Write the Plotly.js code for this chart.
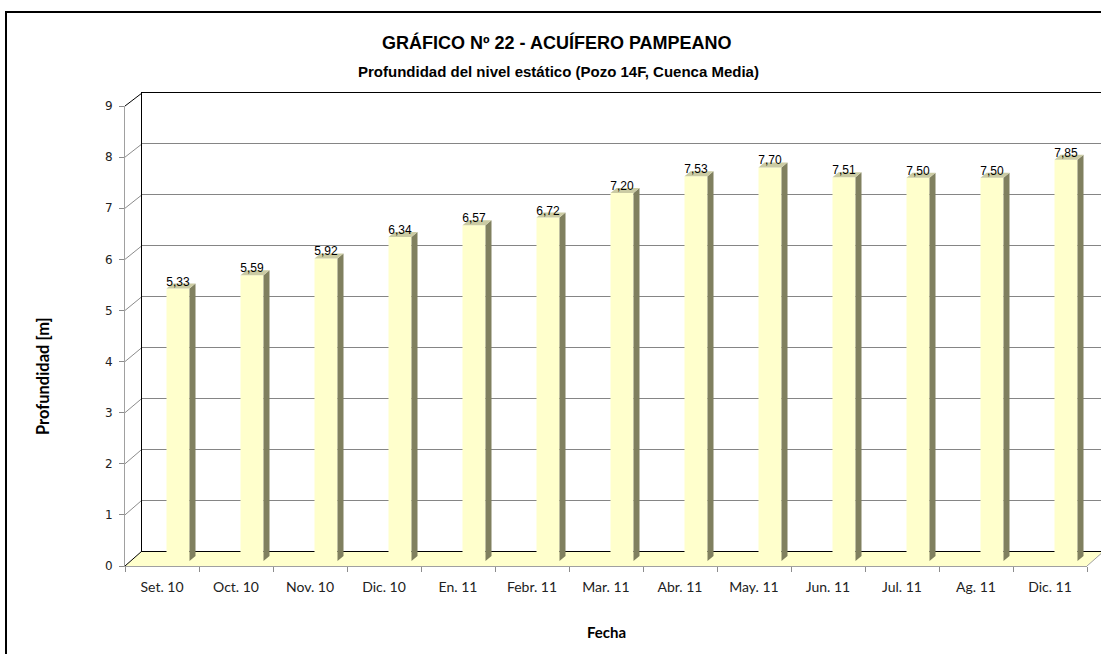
<!DOCTYPE html>
<html><head><meta charset="utf-8">
<script src="https://cdn.plot.ly/plotly-3.0.1.min.js"></script>
<style>html,body{margin:0;padding:0;background:#fff;} #chart{width:1101px;height:654px;}</style>
</head><body><div id="chart"></div>
<script>
// ---- data ----
const categories = ['Set. 10','Oct. 10','Nov. 10','Dic. 10','En. 11','Febr. 11','Mar. 11','Abr. 11','May. 11','Jun. 11','Jul. 11','Ag. 11','Dic. 11'];
const depths = [5.33, 5.59, 5.92, 6.34, 6.57, 6.72, 7.20, 7.53, 7.70, 7.51, 7.50, 7.50, 7.85];
const yTicks = [0,1,2,3,4,5,6,7,8,9];
const chartTitle = 'GRÁFICO Nº 22 - ACUÍFERO PAMPEANO';
const chartSubtitle = 'Profundidad del nivel estático (Pozo 14F, Cuenca Media)';
const xTitle = 'Fecha';
const yTitle = 'Profundidad [m]';

// ---- geometry (pixels) ----
const W = 1101, H = 654;
const frontL = 125, frontR = 1087, frontBottom = 566, frontTop = 106;
const depthX = 17;
const backL = frontL + depthX, backBottom = 551, backTop = 93;
const barShiftY = 5;
const yMax = 9;
const catW = (frontR - frontL) / categories.length;
const px = v => v / W, py = v => 1 - v / H;

const barW = 23 / catW;
const sideDx = 6 / catW;
const sideDy = 5 * yMax / (frontBottom - frontTop);
const idx = categories.map((_, i) => i);

// 3D faces built from the data
const sideX = [], sideY = [], topX = [], topY = [];
depths.forEach((v, i) => {
  const xl = i - barW / 2, xr = i + barW / 2;
  sideX.push(xr, xr + sideDx, xr + sideDx, xr, xr, null);
  sideY.push(0, sideDy, v + sideDy, v, 0, null);
  topX.push(xl, xr, xr + sideDx, xl + sideDx, xl, null);
  topY.push(v, v, v + sideDy, v + sideDy, v, null);
});
const labels = depths.map(v => v.toFixed(2).replace('.', ','));

const traces = [
  {type:'scatter', x:[0], y:[0], xaxis:'x', yaxis:'y', mode:'markers', marker:{opacity:0}, hoverinfo:'skip', showlegend:false},
  {type:'scatter', x:categories, y:depths, xaxis:'x2', yaxis:'y2', mode:'markers', marker:{opacity:0}, hoverinfo:'skip', showlegend:false},
  {type:'bar', x:idx, y:depths, xaxis:'x3', yaxis:'y3', width:barW, marker:{color:'#FFFFCC', line:{width:0}}, showlegend:false},
  {type:'scatter', x:sideX, y:sideY, xaxis:'x3', yaxis:'y3', mode:'lines', fill:'toself', fillcolor:'#80805F', line:{width:0, color:'#80805F'}, showlegend:false, hoverinfo:'skip'},
  {type:'scatter', x:topX, y:topY, xaxis:'x3', yaxis:'y3', mode:'lines', fill:'toself', fillcolor:'#CBCBA3', line:{width:0, color:'#CBCBA3'}, showlegend:false, hoverinfo:'skip'},
  {type:'scatter', x:idx, y:depths, xaxis:'x3', yaxis:'y3', mode:'text', text:labels, textposition:'top center',
   textfont:{family:'Liberation Sans, Arial, sans-serif', size:12, color:'#000'}, showlegend:false, hoverinfo:'skip'}
];

const shapes = [];
// floor
shapes.push({type:'path', xref:'paper', yref:'paper', layer:'below',
  path:`M ${px(frontL)},${py(frontBottom)} L ${px(frontR)},${py(frontBottom)} L ${px(frontR+depthX)},${py(backBottom)} L ${px(backL)},${py(backBottom)} Z`,
  fillcolor:'#FFFFCC', line:{width:0}});
// left wall diagonals
yTicks.forEach(v => {
  const yf = frontBottom - v * (frontBottom - frontTop) / yMax;
  const yb = backBottom - v * (backBottom - backTop) / yMax;
  const edge = (v === 0 || v === yMax);
  shapes.push({type:'line', xref:'paper', yref:'paper', layer:'below',
    x0:px(frontL), y0:py(yf), x1:px(backL), y1:py(yb),
    line:{color: edge ? '#000' : '#8c8c8c', width:1}});
});
// right floor edge
shapes.push({type:'line', xref:'paper', yref:'paper', layer:'below',
  x0:px(frontR), y0:py(frontBottom), x1:px(frontR+depthX), y1:py(backBottom), line:{color:'#a0a0a0', width:1}});
// outer frame
shapes.push({type:'rect', xref:'paper', yref:'paper', layer:'above',
  x0:px(6), x1:px(1120), y0:py(700), y1:py(12), line:{color:'#000', width:2}, fillcolor:'rgba(0,0,0,0)'});

const layout = {
  width: W, height: H,
  margin: {l:0, r:0, t:0, b:0},
  paper_bgcolor: '#fff', plot_bgcolor: 'rgba(0,0,0,0)',
  showlegend: false,
  xaxis: {domain:[px(backL), 1], range:[-0.5, -0.5 + (W - backL) / catW], anchor:'y',
    showgrid:false, zeroline:false, showticklabels:false, ticks:'', showline:true, mirror:true, linecolor:'#000', linewidth:1, fixedrange:true},
  yaxis: {domain:[py(backBottom), py(backTop)], range:[0, yMax], anchor:'x', tickvals:yTicks,
    showgrid:true, gridcolor:'#858585', gridwidth:1, zeroline:false, showticklabels:false, ticks:'',
    showline:true, linecolor:'#000', linewidth:1, fixedrange:true},
  xaxis2: {domain:[px(frontL), px(frontR)], anchor:'y2', type:'category', categoryorder:'array', categoryarray:categories,
    range:[-0.5, categories.length - 0.5], tickson:'boundaries', ticks:'outside', ticklen:5, tickcolor:'#8c8c8c',
    showline:true, linecolor:'#a0a0a0', linewidth:1, showgrid:false, zeroline:false, ticklabelstandoff:8,
    tickfont:{family:'Lato, sans-serif', size:14, color:'#222'}, fixedrange:true},
  yaxis2: {domain:[py(frontBottom), py(frontTop)], anchor:'x2', range:[0, yMax], tickvals:yTicks, ticktext:yTicks.map(String),
    ticks:'outside', ticklen:5, tickcolor:'#8c8c8c', showline:true, linecolor:'#a0a0a0', linewidth:1,
    showgrid:false, zeroline:false, ticklabelstandoff:4,
    tickfont:{family:'DejaVu Sans, sans-serif', size:12, color:'#222'}, fixedrange:true},
  xaxis3: {domain:[px(backL - 1), 1], range:[-0.5, -0.5 + (W - backL + 1) / catW], anchor:'y3', visible:false, fixedrange:true},
  yaxis3: {domain:[py(frontBottom - barShiftY), py(frontTop - barShiftY)], range:[0, yMax], anchor:'x3', visible:false, fixedrange:true},
  shapes: shapes,
  annotations: [
    {text:chartTitle, xref:'paper', yref:'paper', x:px(557), y:py(42), xanchor:'center', yanchor:'middle', showarrow:false,
     font:{family:'Liberation Sans, Arial, sans-serif', size:18, color:'#000', weight:'bold'}},
    {text:chartSubtitle, xref:'paper', yref:'paper', x:px(558), y:py(71), xanchor:'center', yanchor:'middle', showarrow:false,
     font:{family:'Liberation Sans, Arial, sans-serif', size:15, color:'#000', weight:'bold'}},
    {text:xTitle, xref:'paper', yref:'paper', x:px(606), y:py(632), xanchor:'center', yanchor:'middle', showarrow:false,
     font:{family:'Lato, sans-serif', size:15, color:'#000', weight:'bold'}},
    {text:yTitle, xref:'paper', yref:'paper', x:px(43), y:py(376), xanchor:'center', yanchor:'middle', showarrow:false, textangle:-90,
     font:{family:'Lato, sans-serif', size:16.5, color:'#000', weight:'bold'}}
  ]
};

Plotly.newPlot('chart', traces, layout, {staticPlot:true, displayModeBar:false});
</script>
</body></html>
